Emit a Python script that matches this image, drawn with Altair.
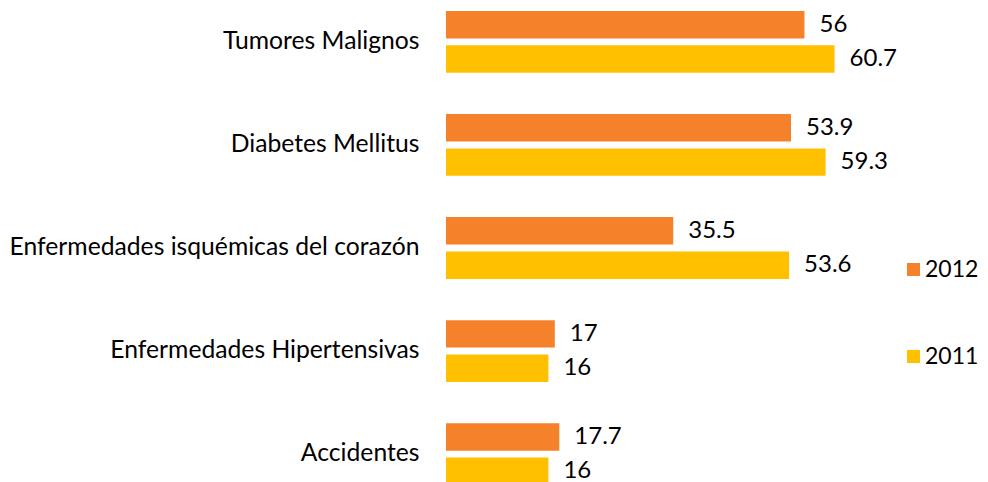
import altair as alt
import pandas as pd

categories = ["Tumores Malignos", "Diabetes Mellitus", "Enfermedades isquémicas del corazón",
              "Enfermedades Hipertensivas", "Accidentes"]
series = ["2012", "2011"]
values_2012 = [56, 53.9, 35.5, 17, 17.7]
values_2011 = [60.7, 59.3, 53.6, 16, 16]
colors = ["#F5822A", "#FFC000"]

rows = []
for c, v12, v11 in zip(categories, values_2012, values_2011):
    rows.append({"cat": c, "year": "2012", "value": v12, "label": f"{v12:g}"})
    rows.append({"cat": c, "year": "2011", "value": v11, "label": f"{v11:g}"})
df = pd.DataFrame(rows)

FONT = "Lato"
FS = 24

y = alt.Y("cat:N", sort=categories, title=None,
          scale=alt.Scale(paddingInner=0.4, paddingOuter=0),
          axis=alt.Axis(domain=False, ticks=False, labelFontSize=24.7, labelFont=FONT,
                        labelColor="#000000", labelPadding=27, labelLimit=600))
yoff = alt.YOffset("year:N", sort=series, scale=alt.Scale(paddingInner=0.2, paddingOuter=0))
x = alt.X("value:Q", scale=alt.Scale(domain=[0, 70.3]), axis=None)

base = alt.Chart(df).encode(y=y, yOffset=yoff, x=x)

bars = base.mark_bar().encode(
    color=alt.Color("year:N", sort=series,
                    scale=alt.Scale(domain=series, range=colors),
                    legend=alt.Legend(title=None, orient="none", legendX=456, legendY=247,
                                      padding=0,
                                      symbolType="square", symbolSize=170, symbolStrokeWidth=0,
                                      labelFontSize=23, labelFont=FONT, labelColor="#000000",
                                      labelOffset=0, rowPadding=63, symbolOpacity=1))
)

text = base.mark_text(align="left", baseline="middle", dx=15, fontSize=FS, font=FONT,
                      color="#000000").encode(text="label:N")

chart = (bars + text).properties(
    width=450, height=474,
    padding={"left": 438, "top": 3, "right": 84, "bottom": 0},
    autosize=alt.AutoSizeParams(type="none")
).configure_view(stroke=None)

chart.save("out.html", embed_options={"renderer": "svg", "actions": False})
